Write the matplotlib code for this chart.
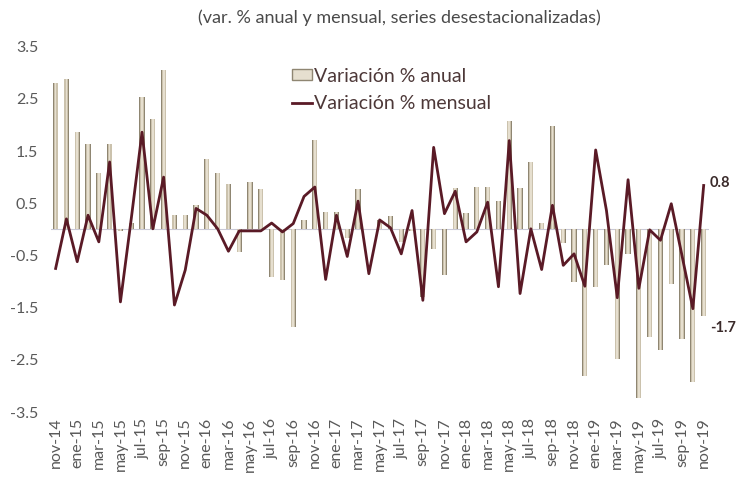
import numpy as np
import matplotlib
matplotlib.use("Agg")
import matplotlib.pyplot as plt
from matplotlib.patches import Patch

# monthly series, nov-14 .. nov-19
month_names = ['ene', 'feb', 'mar', 'abr', 'may', 'jun',
               'jul', 'ago', 'sep', 'oct', 'nov', 'dic']
months = []
for k in range(61):
    m = (10 + k) % 12
    y = 14 + (10 + k) // 12
    months.append(f'{month_names[m]}-{y}')

anual = [2.80, 2.87, 1.86, 1.64, 1.08, 1.63, -0.03, 0.13, 2.53, 2.12, 3.06, 0.27,
         0.28, 0.46, 1.35, 1.08, 0.87, -0.43, 0.90, 0.78, -0.91, -0.98, -1.87, 0.17,
         1.72, 0.33, 0.33, -0.16, 0.78, 0.00, 0.18, 0.26, -0.25, -0.03, -1.30, -0.37,
         -0.88, 0.80, 0.31, 0.81, 0.81, 0.54, 2.08, 0.80, 1.29, 0.12, 1.97, -0.27,
         -1.00, -2.81, -1.10, -0.69, -2.49, -0.47, -3.24, -2.06, -2.31, -1.04, -2.11, -2.92,
         -1.66]

mensual = [-0.75, 0.20, -0.62, 0.27, -0.24, 1.29, -1.39, 0.20, 1.86, 0.01, 1.00, -1.45,
           -0.78, 0.40, 0.27, 0.01, -0.42, -0.03, -0.03, -0.03, 0.12, -0.05, 0.11, 0.63,
           0.81, -0.96, 0.27, -0.52, 0.54, -0.85, 0.18, 0.03, -0.47, 0.36, -1.36, 1.57,
           0.30, 0.73, -0.24, -0.05, 0.52, -1.10, 1.70, -1.23, 0.01, -0.77, 0.46, -0.69,
           -0.47, -1.09, 1.52, 0.36, -1.31, 0.95, -1.13, -0.01, -0.21, 0.49, -0.51, -1.52,
           0.84]

yticks = [3.5, 2.5, 1.5, 0.5, -0.5, -1.5, -2.5, -3.5]

bar_dark = '#8f8672'
bar_mid = '#cbc2ad'
bar_light = '#e6dfcf'
line_col = '#5a1a26'
text_col = '#595959'

plt.rcParams['font.family'] = ['Lato', 'DejaVu Sans']

fig = plt.figure(figsize=(7.39, 4.78), dpi=100)
ax = fig.add_axes([0.0687, 0.138, 0.8908, 0.7645])

x = np.arange(len(months))
# cylinder-ish bars: dark rim, beige body, light core
ax.bar(x, anual, width=0.48, color=bar_dark, zorder=2)
ax.bar(x, anual, width=0.36, color=bar_mid, zorder=2)
ax.bar(x, anual, width=0.16, color=bar_light, zorder=2)
ax.axhline(0, color='#c9c9d6', lw=0.8, zorder=1)
line, = ax.plot(x, mensual, color=line_col, lw=2, zorder=3)

ax.set_xlim(-0.45, 60.5)
ax.set_ylim(-3.5, 3.5)
ax.set_yticks(yticks)
ax.set_yticklabels([f'{v:.1f}' for v in yticks])
ax.set_xticks(x[::2])
ax.set_xticklabels(months[::2], rotation=90)
ax.tick_params(axis='both', length=0, colors=text_col, labelsize=11.5)
ax.tick_params(axis='y', pad=9)
ax.tick_params(axis='x', pad=4)
for s in ax.spines.values():
    s.set_visible(False)

ax.annotate('0.8', (60, mensual[-1]), xytext=(6, 2), textcoords='offset pixels',
            fontsize=10.5, color='#3a2a2a', fontweight='bold', va='center')
ax.annotate('-1.7', (60, anual[-1]), xytext=(6, -12), textcoords='offset pixels',
            fontsize=10.5, color='#3a2a2a', fontweight='bold', va='center')

fig.text(0.54, 0.962, '(var. % anual y mensual, series desestacionalizadas)',
         ha='center', va='center', fontsize=13, color='#4a4a4a')

bar_handle = Patch(facecolor=bar_light, edgecolor=bar_dark, linewidth=1)
ax.legend([bar_handle, line], ['Variación % anual', 'Variación % mensual'],
          loc='upper left', bbox_to_anchor=(0.34, 0.99), frameon=False,
          fontsize=14, handlelength=1.0, handleheight=0.5, handletextpad=0.15,
          labelspacing=0.55, labelcolor='#4d3838')

fig.savefig('out.png', dpi=100)
